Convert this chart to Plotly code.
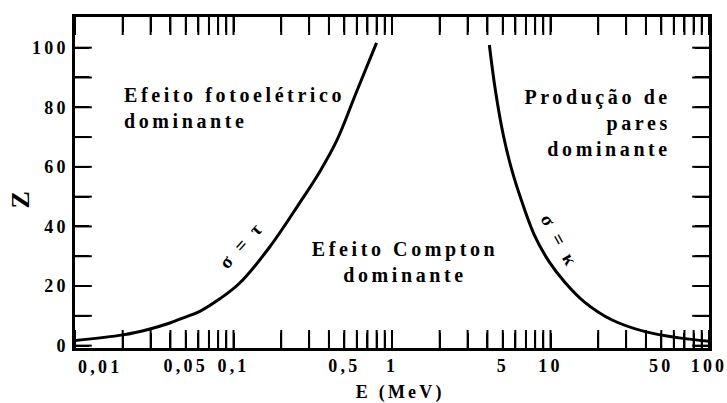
import numpy as np
import plotly.graph_objects as go

# boundary sigma = tau (photoelectric = Compton)
tau_E = [0.01, 0.02006, 0.02968, 0.03967, 0.04931, 0.06128, 0.08190, 0.10950,
         0.16916, 0.26145, 0.34944, 0.44710, 0.59757, 0.79877]
tau_Z = [1.75, 3.6, 5.6, 7.6, 9.5, 11.5, 15.7, 21.0, 33.1, 47.9, 58.3, 68.7, 85.2, 101.6]

# boundary sigma = kappa (Compton = pair production)
kappa_E = [4.114, 4.487, 5.040, 5.658, 6.543, 7.899, 9.820, 12.387, 16.318,
           24.49, 40.10, 64.72, 100]
kappa_Z = [100.9, 85.8, 70.6, 59.6, 48.9, 37.2, 28.1, 21.1, 14.7, 8.6, 4.6, 2.6, 1.5]

# axis ticks
x_label_vals = [0.01, 0.05, 0.1, 0.5, 1, 5, 10, 50, 100]
x_label_text = ["0,01", "0,05", "0,1", "0,5", "1", "5", "10", "50", "100"]
x_minor = [m * 10.0 ** d for d in (-2, -1, 0, 1) for m in range(1, 10)] + [100]
y_tick_vals = list(range(0, 101, 10))
y_label_vals = [0, 20, 40, 60, 80, 100]

FONT = "Liberation Serif"
W, H = 727, 403
M = dict(l=75, r=18, t=17, b=55)
X_RANGE = [-2, 2]          # log10 decades
Y_RANGE = [-0.8, 110.3]
TICK_PX = 15

x_ticktext = []
for v in x_minor:
    t = ""
    for lv, lt in zip(x_label_vals, x_label_text):
        if abs(np.log10(v) - np.log10(lv)) < 1e-6 and lv != 0.01:
            t = lt
    x_ticktext.append(t)
y_ticktext = [str(v) if v in y_label_vals else "" for v in y_tick_vals]

fig = go.Figure()
fig.add_trace(go.Scatter(x=tau_E, y=tau_Z, mode="lines",
                         line=dict(color="black", width=3, shape="spline"),
                         hoverinfo="skip"))
fig.add_trace(go.Scatter(x=kappa_E, y=kappa_Z, mode="lines",
                         line=dict(color="black", width=3, shape="spline"),
                         hoverinfo="skip"))

# inward tick marks on all four sides, drawn as line-shaped markers
plot_w = W - M["l"] - M["r"]
plot_h = H - M["t"] - M["b"]
half_dy = 0.5 * TICK_PX * (Y_RANGE[1] - Y_RANGE[0]) / plot_h
half_dlog = 0.5 * (TICK_PX - 1) * (X_RANGE[1] - X_RANGE[0]) / plot_w
x_lo, x_hi = 10.0 ** X_RANGE[0], 10.0 ** X_RANGE[1]

tick_marker_x = dict(symbol="line-ns", size=TICK_PX, color="black",
                     line=dict(color="black", width=2))
tick_marker_y = dict(symbol="line-ew", size=TICK_PX - 1, color="black",
                     line=dict(color="black", width=2))
for yy in (Y_RANGE[0] + half_dy, Y_RANGE[1] - half_dy):
    fig.add_trace(go.Scatter(x=x_minor, y=[yy] * len(x_minor), mode="markers",
                             marker=tick_marker_x, hoverinfo="skip", cliponaxis=False))
for xx in (x_lo * 10 ** half_dlog, x_hi / 10 ** half_dlog):
    fig.add_trace(go.Scatter(x=[xx] * len(y_tick_vals), y=y_tick_vals, mode="markers",
                             marker=tick_marker_y, hoverinfo="skip", cliponaxis=False))

fig.update_layout(
    template="none",
    width=W, height=H,
    margin=M,
    paper_bgcolor="white", plot_bgcolor="white",
    showlegend=False,
    font=dict(family=FONT, color="black", size=18),
)
fig.update_xaxes(
    type="log", range=X_RANGE,
    tickmode="array", tickvals=x_minor, ticktext=x_ticktext,
    ticks="inside", ticklen=TICK_PX, tickwidth=2, tickcolor="black",
    mirror="allticks", showline=True, linewidth=2.5, linecolor="black",
    showgrid=False, zeroline=False,
    tickfont=dict(family=FONT, size=18, color="black", weight="bold"),
)
fig.update_yaxes(
    range=Y_RANGE,
    tickmode="array", tickvals=y_tick_vals, ticktext=y_ticktext,
    ticks="inside", ticklen=TICK_PX - 1, tickwidth=2, tickcolor="black",
    mirror="allticks", showline=True, linewidth=2.5, linecolor="black",
    showgrid=False, zeroline=False,
    tickfont=dict(family=FONT, size=18, color="black", weight="bold"),
)

big = dict(family=FONT, size=20, color="black", weight="bold")
anns = [
    dict(text="Efeito fotoelétrico<br>dominante", x=np.log10(0.0198), y=79.6,
         xref="x", yref="y", xanchor="left", align="left", yanchor="middle", font=big),
    dict(text="Efeito Compton<br>dominante", x=np.log10(1.21), y=28.0,
         xref="x", yref="y", xanchor="center", align="center", yanchor="middle", font=big),
    dict(text="Produção de<br>pares<br>dominante", x=np.log10(59.7), y=74.8,
         xref="x", yref="y", xanchor="right", align="right", yanchor="middle", font=big),
    dict(text="σ = τ", x=np.log10(0.1127), y=33.8, xref="x", yref="y",
         textangle=-48, font=dict(family=FONT, size=19, color="black", weight="bold")),
    dict(text="σ = κ", x=np.log10(11.5), y=35.0, xref="x", yref="y",
         textangle=61, font=dict(family=FONT, size=19, color="black", weight="bold")),
    dict(text="Z", x=0, y=0.453, xref="paper", yref="paper", xshift=-55,
         xanchor="center", yanchor="middle",
         textangle=-90, font=dict(family=FONT, size=26, color="black", weight="bold")),
    dict(text="E (MeV)", x=0.513, y=0, xref="paper", yref="paper", yanchor="middle",
         xanchor="center", yshift=-44,
         font=dict(family=FONT, size=18, color="black", weight="bold")),
    dict(text="0,01", x=np.log10(0.01), y=0, xref="x", yref="paper",
         xanchor="left", align="left", yanchor="middle", xshift=1, yshift=-19,
         font=dict(family=FONT, size=18, color="black", weight="bold")),
]
for a in anns:
    a["showarrow"] = False
    fig.add_annotation(**a)

post = ("var s=document.createElement('style');"
        "s.textContent='.main-svg text{letter-spacing:0.18em;}';"
        "document.head.appendChild(s);")
fig.write_html("out.html", post_script=post, config={"displayModeBar": False})
